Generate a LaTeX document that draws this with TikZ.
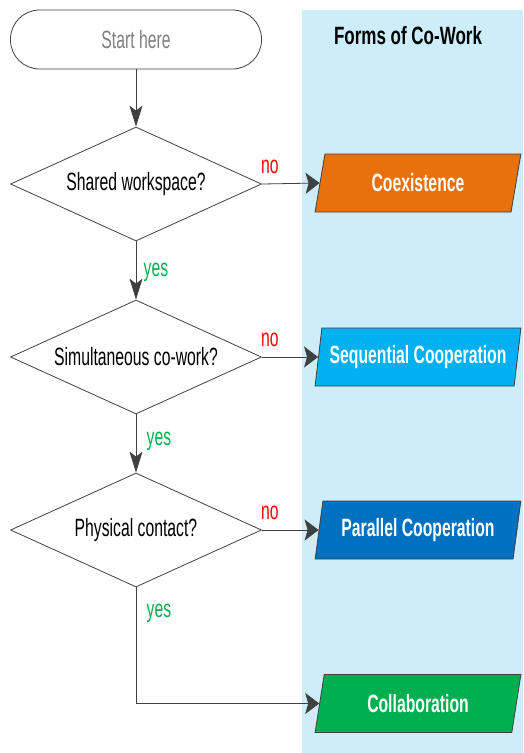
\documentclass[tikz,border=0pt]{standalone}
\usepackage{fontspec}
\setmainfont{Liberation Sans}
\newfontfamily\nf[FakeStretch=0.63]{Liberation Sans}
\newfontfamily\hf[FakeStretch=0.68]{Liberation Sans}
\usetikzlibrary{shapes.geometric,arrows.meta}
\definecolor{bgblue}{RGB}{204,237,249}
\definecolor{lineclr}{RGB}{64,64,64}
\definecolor{coexorange}{RGB}{232,113,14}
\definecolor{seqblue}{RGB}{0,176,240}
\definecolor{parblue}{RGB}{0,112,192}
\definecolor{colgreen}{RGB}{0,176,80}
\definecolor{nored}{RGB}{255,0,0}
\definecolor{yesgreen}{RGB}{0,176,80}
\definecolor{startgray}{RGB}{128,128,128}
\tikzset{
  txt/.style={font=\nf\fontsize{25}{28}\selectfont},
  startbox/.style={draw=lineclr, line width=0.8pt, rounded corners=29pt, minimum width=251pt, minimum height=59pt, inner sep=0pt, txt, text=startgray},
  decision/.style={diamond, draw=lineclr, line width=0.8pt, minimum width=251pt, minimum height=114pt, inner sep=0pt, aspect=2.2, txt, text=black},
  formbox/.style={trapezium, trapezium left angle=75, trapezium right angle=105, trapezium stretches=true, minimum width=206pt, minimum height=58pt, inner sep=0pt, draw=lineclr, line width=0.8pt, txt, font=\nf\bfseries\fontsize{25}{28}\selectfont, text=white},
  vflow/.style={draw=lineclr, line width=0.8pt, -{Stealth[length=21pt, width=13pt, inset=5pt]}},
  hflow/.style={draw=lineclr, line width=0.8pt, -{Stealth[length=14pt, width=21pt, inset=3pt]}},
  nolab/.style={txt, text=nored, inner sep=0pt},
  yeslab/.style={txt, text=yesgreen, inner sep=0pt},
}
\begin{document}
\begin{tikzpicture}[x=1pt, y=-1pt]
\useasboundingbox (0,0) rectangle (523,753);
\fill[bgblue] (302,10) rectangle (523,753);
\node[font=\hf\bfseries\fontsize{25}{28}\selectfont, inner sep=0pt] (hdr) at (408,36) {Forms of Co-Work};

\node[startbox] (start) at (136,39.5) {Start here};
\node[decision] (d1) at (136,184) {Shared workspace?};
\node[decision] (d2) at (136,357) {Simultaneous co-work?};
\node[decision] (d3) at (136,530) {Physical contact?};

\node[formbox, fill=coexorange] (p1) at (418,183) {Coexistence};
\node[formbox, fill=seqblue] (p2) at (418,357) {Sequential Cooperation};
\node[formbox, fill=parblue] (p3) at (418,530) {Parallel Cooperation};
\node[formbox, fill=colgreen] (p4) at (418,703.5) {Collaboration};

\draw[vflow] (start.south) -- (d1.north);
\draw[vflow] (d1.south) -- (d2.north);
\draw[vflow] (d2.south) -- (d3.north);
\draw[hflow] (d1.east) -- (p1.left side);
\draw[hflow] (d2.east) -- (p2.left side);
\draw[hflow] (d3.east) -- (p3.left side);
\draw[hflow] (d3.south) |- (p4.left side);

\node[nolab] (no1) at (270,167) {no};
\node[nolab] (no2) at (270,340) {no};
\node[nolab] (no3) at (270,513) {no};
\node[yeslab] (yes1) at (156,272) {yes};
\node[yeslab] (yes2) at (159,441) {yes};
\node[yeslab] (yes3) at (159,613) {yes};
\end{tikzpicture}
\end{document}
